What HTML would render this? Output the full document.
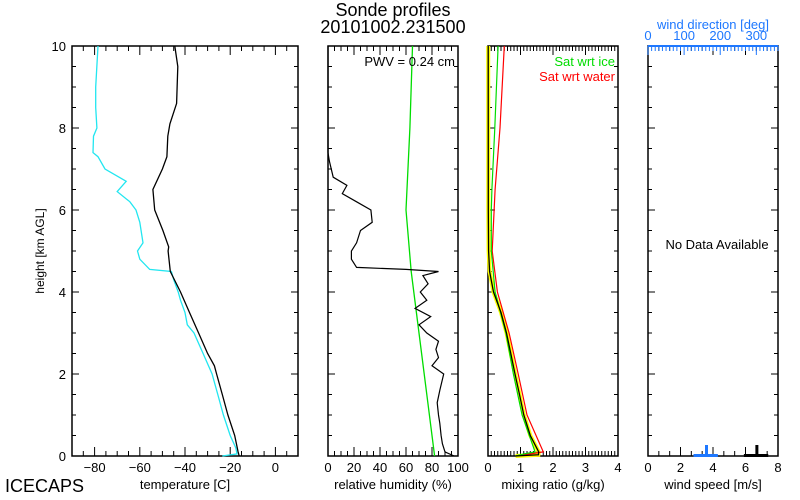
<!DOCTYPE html>
<html><head><meta charset="utf-8"><style>
body{margin:0;background:#fff}
svg{display:block;font-family:"Liberation Sans",sans-serif}
</style></head><body>
<svg id="c" width="800" height="500" xmlns="http://www.w3.org/2000/svg">
<text x="393" y="16" font-size="18" text-anchor="middle">Sonde profiles</text>
<text x="393" y="33" font-size="18" text-anchor="middle">20101002.231500</text>
<text x="5" y="492" font-size="18">ICECAPS</text>
<text transform="translate(44,251) rotate(-90)" font-size="12" text-anchor="middle">height [km AGL]</text>
</svg>
<script>
// temperature panel
const tH=[0,0.1,0.5,1,1.5,2,2.2,2.5,3,3.5,4,4.5,5,5.1,5.5,6,6.5,7,7.3,7.8,8.1,8.6,9.5,10];
const tT=[-16,-16.5,-18,-21,-23.5,-26,-27,-30,-34,-38,-42,-46.5,-47.5,-47.2,-49.8,-53.4,-54.2,-50,-48,-47.6,-46.7,-43.7,-43.2,-44.5];
const dH=[0,0.05,0.2,0.5,1,1.5,2,2.5,3,3.2,3.5,3.8,4,4.3,4.5,4.55,4.8,5,5.2,5.7,6,6.2,6.45,6.7,7,7.3,7.4,7.8,8,8.5,9,10];
const dT=[-23.5,-17,-17.5,-20,-23,-25.5,-28,-32,-36,-39,-40,-42,-43,-45,-46,-55.6,-60,-61,-58.6,-60,-61.7,-64.4,-70,-66,-75.4,-78.5,-80.7,-80.5,-79,-79.5,-79.5,-78.5];
// relative humidity panel
const rhH=[0,0.1,0.3,0.5,0.8,1,1.3,1.6,2,2.2,2.4,2.6,2.8,3,3.2,3.4,3.6,3.8,4,4.2,4.4,4.5,4.55,4.6,4.8,5,5.2,5.5,5.7,6,6.2,6.4,6.6,6.8,7.2,7.4,10];
const rhV=[97,90,88,87,86,85,84,86,89,80,85,83,85,76,70,79,67,76,71,77,73,85,60,22,18,18,22,25,34,33,22,11,14.5,4,1,0,0];
const rhIceH=[0,2,4.5,6,8,10];
const rhIceV=[82,74,64,60,63,65];
// mixing ratio panel
const wH=[0,0.03,0.1,0.5,1,1.5,2,2.5,3,3.5,4,4.5,5,6,10];
const wV=[0.85,1.55,1.56,1.3,1.1,0.97,0.83,0.7,0.57,0.4,0.17,0.05,0.02,0.01,0.005];
const iceH=[0,0.05,0.1,1,2,3,4,5,6,6.5,8,10];
const iceV=[0.85,1.1,1.45,1.05,0.78,0.55,0.22,0.1,0.1,0.12,0.21,0.31];
const watH=[0,0.05,0.1,1,2,3,4,5,6.5,8,10];
const watV=[0.85,1.3,1.7,1.2,0.93,0.65,0.29,0.13,0.22,0.37,0.5];
// wind speed markers
const windSpd=[3.6,6.7];
const windLo=[2.8,5.9];
const windHi=[4.3,7.4];
const windCol=["#1e78ff","#000"];

const svg=document.getElementById('c');const NS="http://www.w3.org/2000/svg";
function el(t,a,p){const e=document.createElementNS(NS,t);for(const k in a)e.setAttribute(k,a[k]);(p||svg).appendChild(e);return e;}
const Y0=456,Y1=46;
const y=h=>Y0+(Y1-Y0)*h/10;
function panel(name,x0,x1,min,max,minor,major,labels,title){
  const sx=v=>x0+(v-min)/(max-min)*(x1-x0);
  const g=el('g',{});
  
  
  el('rect',{x:x0,y:Y1,width:x1-x0,height:Y0-Y1,fill:'none',stroke:'#000','stroke-width':1.5},g);
  for(let h=0;h<=10.001;h+=0.5){const L=(Math.abs(h/2-Math.round(h/2))<1e-6)?7:4;
    el('line',{x1:x0,x2:x0+L,y1:y(h),y2:y(h),stroke:'#000'},g);el('line',{x1:x1,x2:x1-L,y1:y(h),y2:y(h),stroke:'#000'},g);}
  const n=Math.round((max-min)/minor);
  for(let i=0;i<=n;i++){const v=min+i*minor;const isMaj=Math.abs(v/major-Math.round(v/major))<1e-6;const L=isMaj?9:5;const X=sx(v);
    el('line',{x1:X,x2:X,y1:Y0,y2:Y0-L,stroke:'#000'},g);el('line',{x1:X,x2:X,y1:Y1,y2:Y1+L,stroke:'#000'},g);}
  labels.forEach(v=>{const t=el('text',{x:sx(v),y:472,'font-size':13,'text-anchor':'middle'},g);t.textContent=(v<0?'\u2212'+(-v):v);
    
    });
  const tt=el('text',{x:(x0+x1)/2,y:489,'font-size':13,'text-anchor':'middle'},g);tt.textContent=title;
  
  
  return sx;
}
function line(sx,H,V,col,w,name){const d=H.map((h,i)=>(i?'L':'M')+sx(V[i]).toFixed(1)+','+y(h).toFixed(1)).join('');
  const p=el('path',{d:d,fill:'none',stroke:col,'stroke-width':w});
  
  }
[0,2,4,6,8,10].forEach(h=>{const t=el('text',{x:66,y:y(h)+5,'font-size':13,'text-anchor':'end'});t.textContent=h;
  
  });

const s1=panel('temperature',72,298,-90,10,5,20,[-80,-60,-40,-20,0],'temperature [C]');
line(s1,dH,dT,'#22e6f0',1.3,'dewpoint-line');
line(s1,tH,tT,'#000',1.3,'temperature-line');

const s2=panel('humidity',328,458,0,100,5,20,[0,20,40,60,80,100],'relative humidity (%)');
line(s2,rhIceH,rhIceV,'#00dd00',1.3,'rh-ice-line');
line(s2,rhH,rhV,'#000',1.2,'rh-line');
let t=el('text',{x:455,y:66,'font-size':13,'text-anchor':'end'});t.textContent='PWV = 0.24 cm';



const s3=panel('mixing-ratio',488,618,0,4,0.1,1,[0,1,2,3,4],'mixing ratio (g/kg)');
line(s3,wH,wV,'#ffff00',4,'mixing-ratio-uncertainty');
line(s3,watH,watV,'#ff0000',1.2,'sat-water-line');
line(s3,iceH,iceV,'#00dd00',1.2,'sat-ice-line');
line(s3,wH,wV,'#000',1.3,'mixing-ratio-line');
t=el('text',{x:615,y:66,'font-size':13,'text-anchor':'end',fill:'#00dd00'});t.textContent='Sat wrt ice';


t=el('text',{x:615,y:81,'font-size':13,'text-anchor':'end',fill:'#ff0000'});t.textContent='Sat wrt water';



const s4=panel('wind',648,778,0,8,2/3,2,[0,2,4,6,8],'wind speed [m/s]');
const sd=v=>648+v/360*130;
el('line',{x1:648,x2:778,y1:Y1,y2:Y1,stroke:'#1e78ff','stroke-width':2});
for(let v=0;v<=360;v+=10){const L=v%100===0?9:5;el('line',{x1:sd(v),x2:sd(v),y1:Y1,y2:Y1+L,stroke:'#1e78ff'});}
[0,100,200,300].forEach(v=>{const tx=el('text',{x:sd(v),y:40,'font-size':13,'text-anchor':'middle',fill:'#1e78ff'});tx.textContent=v;
  
  });
t=el('text',{x:713,y:29,'font-size':13,'text-anchor':'middle',fill:'#1e78ff'});t.textContent='wind direction [deg]';


windSpd.forEach((v,i)=>{const g=el('g',{});
  
  
  el('rect',{x:s4(windLo[i]),y:Y0-2,width:s4(windHi[i])-s4(windLo[i]),height:3,fill:windCol[i]},g);
  el('rect',{x:s4(v)-1.5,y:Y0-11,width:3,height:11,fill:windCol[i]},g);});
t=el('text',{x:717,y:249,'font-size':13,'text-anchor':'middle'});t.textContent='No Data Available';


</script>
</body></html>
